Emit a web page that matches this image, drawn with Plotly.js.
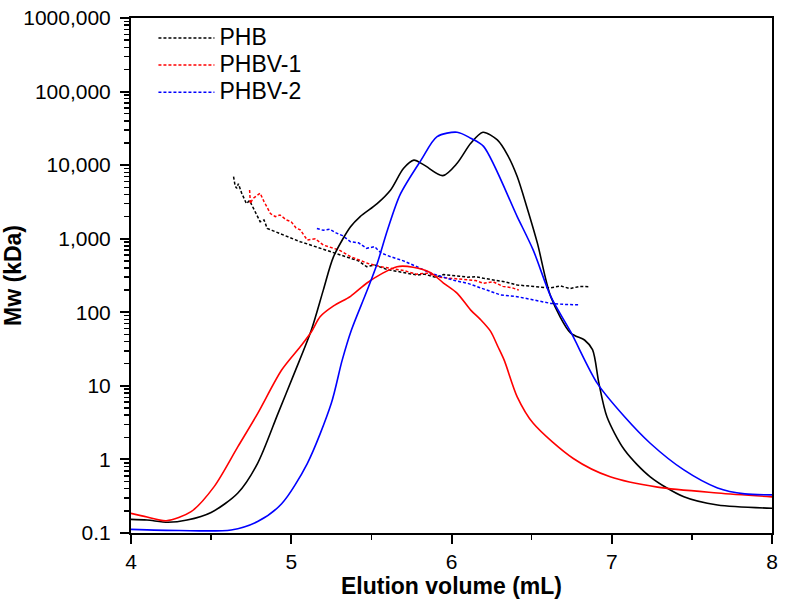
<!DOCTYPE html>
<html>
<head>
<meta charset="utf-8">
<script src="https://cdn.plot.ly/plotly-3.0.1.min.js"></script>
<style>html,body{margin:0;padding:0;background:#fff;}#chart{width:785px;height:604px;}</style>
</head>
<body>
<div id="chart"></div>
<script>
// ---- Data ----
// Solid distribution curves
const phbX   = [4.0,4.1,4.23,4.35,4.5,4.667,4.79,4.917,5.02,5.125,5.2,5.264,5.37,5.43,5.536,5.62,5.70,5.765,5.83,5.946,6.035,6.12,6.196,6.286,6.35,6.41,6.47,6.536,6.62,6.744,6.83,6.88,6.92,6.97,7.08,7.24,7.45,7.66,8.0];
const phbY   = [0.153,0.15,0.14,0.15,0.19,0.35,0.885,4.2,15,57,200,570,1450,2000,3000,4600,9000,11700,10000,7200,10600,19800,28000,22000,13700,7000,2700,870,162,52,42,31,10.8,3.8,1.34,0.58,0.31,0.24,0.217];

const phbv1X = [4.0,4.1,4.22,4.375,4.52,4.667,4.79,4.94,5.056,5.125,5.18,5.264,5.37,5.47,5.56,5.66,5.76,5.87,5.95,6.036,6.12,6.18,6.244,6.29,6.33,6.41,6.51,6.76,6.99,7.286,7.66,8.0];
const phbv1Y = [0.185,0.165,0.147,0.195,0.43,1.49,4.2,16.4,34,54,87,122,165,248,330,417,410,345,250,181,107,80,55,34,22,7.1,3.1,1.03,0.58,0.42,0.35,0.31];

const phbv2X = [4.0,4.3,4.625,4.79,4.94,5.1,5.25,5.317,5.375,5.47,5.535,5.6,5.68,5.81,5.91,6.035,6.12,6.2,6.41,6.51,6.62,6.744,6.91,7.08,7.24,7.45,7.66,7.83,8.0];
const phbv2Y = [0.112,0.108,0.11,0.143,0.25,0.88,5.8,22,57,190,450,1300,4000,11700,24400,28000,23200,18000,2000,700,163,54,10.8,3.8,1.66,0.72,0.41,0.34,0.33];

// Dashed Mw curves (legend entries)
const mwPhbX = [4.64,4.65,4.66,4.67,4.69,4.72,4.74,4.76,4.79,4.806,4.83,4.85,4.88,4.92,4.95,5.0,5.056,5.1,5.15,5.22,5.28,5.35,5.42,5.47,5.52,5.6,5.66,5.72,5.785,5.83,5.9,5.95,6.0,6.05,6.1,6.15,6.2,6.27,6.33,6.41,6.48,6.55,6.62,6.68,6.74,6.8,6.86];
const mwPhbY = [6960,5200,4840,5600,4200,3000,3300,2700,1900,1700,1800,1380,1300,1200,1120,1000,910,850,780,700,620,560,500,417,440,380,360,340,321,330,300,325,321,310,300,305,290,275,260,235,225,220,215,228,210,225,223];

const mwV1X = [4.74,4.745,4.76,4.78,4.806,4.83,4.85,4.87,4.9,4.93,4.97,5.0,5.03,5.056,5.1,5.15,5.2,5.264,5.3,5.37,5.42,5.48,5.55,5.62,5.7,5.78,5.85,5.92,6.0,6.08,6.15,6.2,6.26,6.32,6.38,6.42];
const mwV1Y = [4600,3000,3500,3800,4150,3200,2600,2200,2000,2100,1800,1700,1400,1320,960,1000,820,740,700,570,520,460,420,400,370,330,340,300,290,280,270,248,260,225,215,200];

const mwV2X = [5.16,5.2,5.24,5.28,5.32,5.37,5.42,5.47,5.52,5.56,5.62,5.7,5.78,5.87,5.95,6.02,6.1,6.2,6.306,6.41,6.5,6.62,6.7,6.8];
const mwV2Y = [1380,1300,1350,1200,1100,910,880,740,780,640,570,500,420,340,300,270,248,210,172,163,148,132,128,126];

const legendNames = ["PHB","PHBV-1","PHBV-2"];
const yTickVals = [0.1,1,10,100,1000,10000,100000,1000000];
const yTickText = ["0.1","1","10","100","1,000","10,000","100,000","1000,000"];
const xTickVals = [4,5,6,7,8];

// ---- Chart ----
const colors = ["#000000","#ff0000","#0000ff"];
const solid = [[phbX,phbY],[phbv1X,phbv1Y],[phbv2X,phbv2Y]];
const dashed = [[mwPhbX,mwPhbY],[mwV1X,mwV1Y],[mwV2X,mwV2Y]];
const traces = [];
dashed.forEach((d,i)=>traces.push({
  x:d[0], y:d[1], type:'scatter', mode:'lines',
  name:'<span style="font-size:23px">'+legendNames[i]+'</span>',
  line:{color:colors[i], width:1.5, dash:'3px,2px'}
}));
solid.forEach((d,i)=>traces.push({
  x:d[0], y:d[1], type:'scatter', mode:'lines', showlegend:false, hoverinfo:'skip',
  line:{color:colors[i], width:1.6, shape:'spline', smoothing:0.8}
}));

const minorY = [];
for (let e=-1; e<6; e++) for (let m=2; m<10; m++) minorY.push(m*Math.pow(10,e));

const font = "Liberation Sans, Arial, sans-serif";
const layout = {
  width:785, height:604,
  margin:{l:131, r:13, t:18, b:71, pad:0},
  paper_bgcolor:'#fff', plot_bgcolor:'#fff',
  font:{family:font, color:'#000'},
  showlegend:true,
  legend:{x:0.035, y:0.997, xanchor:'left', yanchor:'top', bgcolor:'rgba(0,0,0,0)',
          font:{size:18.5, family:font, color:'#000'}, itemwidth:56, tracegroupgap:0},
  xaxis:{range:[4,8], tickmode:'array', tickvals:xTickVals, ticks:'outside', ticklen:9, tickwidth:2,
         tickcolor:'#000', showline:true, linewidth:2, linecolor:'#000', mirror:true,
         showgrid:false, zeroline:false, tickfont:{size:21, family:font},
         minor:{ticks:'outside', ticklen:5, tickwidth:1.5, tickcolor:'#000', dtick:0.5, tick0:4, showgrid:false},
         title:{text:'<b>Elution volume (mL)</b>', font:{size:23, family:font}, standoff:6}},
  yaxis:{type:'log', range:[-1,6], tickmode:'array', tickvals:yTickVals, ticktext:yTickText,
         ticks:'outside', ticklen:9, tickwidth:2, tickcolor:'#000', ticklabelstandoff:5,
         showline:true, linewidth:2, linecolor:'#000', mirror:true,
         showgrid:false, zeroline:false, tickfont:{size:21, family:font},
         minor:{ticks:'outside', ticklen:5, tickwidth:1.5, tickcolor:'#000', tickmode:'array', tickvals:minorY, showgrid:false},
         title:{text:'<b>Mw (kDa)</b>', font:{size:23, family:font}, standoff:8}}
};
Plotly.newPlot('chart', traces, layout, {staticPlot:true, displayModeBar:false});
</script>
</body>
</html>
